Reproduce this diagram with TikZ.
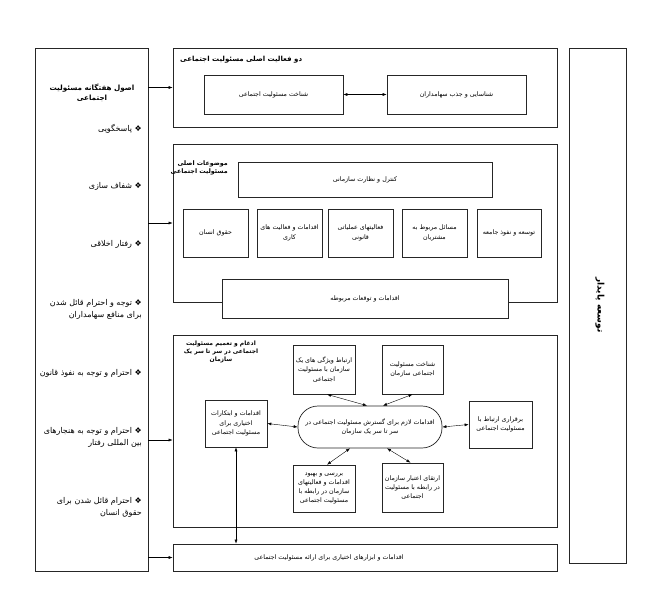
\documentclass[tikz,border=0pt]{standalone}
\usepackage{fontspec}
\newfontfamily\arabicfont[Script=Arabic]{DejaVu Sans}
\TeXXeTstate=1
\usetikzlibrary{arrows.meta,positioning}
\newcommand{\fa}[1]{\beginR #1\endR}
\tikzset{
  frame box/.style={
    draw=black!85, line width=0.8pt, minimum width=384, inner sep=0pt
  },
  column box/.style={
    draw=black!85, line width=0.8pt, inner sep=0pt
  },
  topic box/.style={
    draw=black!85, line width=0.7pt, fill=white, align=center, inner sep=1pt,
    font=\arabicfont\fontsize{6.3}{9.3}\selectfont
  },
  item text/.style={
    align=right, inner sep=0pt, font=\arabicfont\fontsize{8}{12}\selectfont
  },
  head text/.style={
    align=center, inner sep=0pt, font=\arabicfont\bfseries\fontsize{6.3}{8}\selectfont
  }
}

\begin{document}
\begin{tikzpicture}[x=1pt, y=-1pt, >={Latex[length=4pt,width=3pt]}]
    \useasboundingbox (0,0) rectangle (668,594);
    % side columns
    \draw (91.5,309.5) node[column box, minimum width=113, minimum height=523] (principles) {};
    \draw (597.5,305.5) node[column box, minimum width=57, minimum height=515] (sustain) {};
    \draw (600,305) node[head text, rotate=-90, font=\arabicfont\bfseries\fontsize{9}{11}\selectfont] (sustaintitle) {\fa{توسعه پایدار}};
    \draw (92,93) node[head text, font=\arabicfont\bfseries\fontsize{7.2}{10}\selectfont] (principlestitle) {\fa{اصول هفتگانه مسئولیت}\\\fa{اجتماعی}};
    \draw (142,129) node[item text, anchor=east] (respond) {\fa{❖ پاسخگویی}};
    \draw (142,186) node[item text, anchor=east] (clear) {\fa{❖ شفاف سازی}};
    \draw (142,244) node[item text, anchor=east] (ethics) {\fa{❖ رفتار اخلاقی}};
    \draw (142,309) node[item text, anchor=east] (holders) {\fa{❖ توجه و احترام قائل شدن}\\\fa{برای منافع سهامداران}};
    \draw (142,373) node[item text, anchor=east] (law) {\fa{❖ احترام و توجه به نفوذ قانون}};
    \draw (142,437) node[item text, anchor=east] (norms) {\fa{❖ احترام و توجه به هنجارهای}\\\fa{بین المللی رفتار}};
    \draw (142,507) node[item text, anchor=east] (rights) {\fa{❖ احترام قائل شدن برای}\\\fa{حقوق انسان}};

    % two main activities
    \draw (365,87.5) node[frame box, minimum height=79] (activity) {};
    \draw (180,60) node[head text, anchor=west, font=\arabicfont\bfseries\fontsize{7}{8}\selectfont] (activitytitle) {\fa{دو فعالیت اصلی مسئولیت اجتماعی}};
    \draw (273.5,94.5) node[topic box, minimum width=139, minimum height=39] (know) {\fa{شناخت مسئولیت اجتماعی}};
    \draw (456.5,94.5) node[topic box, minimum width=139, minimum height=39] (stake) {\fa{شناسایی و جذب سهامداران}};
    \draw (know) edge[<->] (stake);

    % main topics
    \draw (365,223) node[frame box, minimum height=158] (topics) {};
    \draw (228,161) node[head text, anchor=north east, align=right] (topicstitle) {\fa{موضوعات اصلی}\\\fa{مسئولیت اجتماعی}};
    \draw (365,179.5) node[topic box, minimum width=254, minimum height=35] (control) {\fa{کنترل و نظارت سازمانی}};
    \draw (215.5,233) node[topic box, minimum width=65, minimum height=48] (human) {\fa{حقوق انسان}};
    \draw (289.5,233) node[topic box, minimum width=65, minimum height=48] (labour) {\fa{اقدامات و فعالیت های}\\\fa{کاری}};
    \draw (360.5,233) node[topic box, minimum width=65, minimum height=48] (legal) {\fa{فعالیتهای عملیاتی}\\\fa{قانونی}};
    \draw (434.5,233) node[topic box, minimum width=65, minimum height=48] (clients) {\fa{مسائل مربوط به}\\\fa{مشتریان}};
    \draw (509,233) node[topic box, minimum width=64, minimum height=48] (society) {\fa{توسعه و نفوذ جامعه}};
    \draw (365,298.5) node[topic box, minimum width=286, minimum height=39] (expect) {\fa{اقدامات و توقعات مربوطه}};

    % integration
    \draw (365,431) node[frame box, minimum height=192] (integration) {};
    \draw (221,341) node[head text, anchor=north, font=\arabicfont\bfseries\fontsize{6}{8}\selectfont] (integrationtitle) {\fa{ادغام و تعمیم مسئولیت}\\\fa{اجتماعی در سر تا سر یک}\\\fa{سازمان}};
    \draw (370,427) node[topic box, minimum width=144, minimum height=42, rounded corners=20pt] (hub) {\fa{اقدامات لازم برای گسترش مسئولیت اجتماعی در}\\\fa{سر تا سر یک سازمان}};
    \draw (324,369.5) node[topic box, minimum width=62, minimum height=49] (link) {\fa{ارتباط ویژگی های یک}\\\fa{سازمان با مسئولیت}\\\fa{اجتماعی}};
    \draw (412.5,369.5) node[topic box, minimum width=61, minimum height=49] (learn) {\fa{شناخت مسئولیت}\\\fa{اجتماعی سازمان}};
    \draw (236,423.5) node[topic box, minimum width=62, minimum height=47] (initiative) {\fa{اقدامات و ابتکارات}\\\fa{اختیاری برای}\\\fa{مسئولیت اجتماعی}};
    \draw (500.5,424.5) node[topic box, minimum width=63, minimum height=47] (contact) {\fa{برقراری ارتباط با}\\\fa{مسئولیت اجتماعی}};
    \draw (324,488.5) node[topic box, minimum width=62, minimum height=47] (review) {\fa{بررسی و بهبود}\\\fa{اقدامات و فعالیتهای}\\\fa{سازمان در رابطه با}\\\fa{مسئولیت اجتماعی}};
    \draw (412.5,487.5) node[topic box, minimum width=61, minimum height=49] (credit) {\fa{ارتقای اعتبار سازمان}\\\fa{در رابطه با مسئولیت}\\\fa{اجتماعی}};
    \draw ([xshift=-3pt]hub.north) edge[<->] ([xshift=3pt]link.south);
    \draw ([xshift=13pt]hub.north) edge[<->] (learn.south);
    \draw ([xshift=-20pt]hub.south) edge[<->] ([xshift=3pt]review.north);
    \draw ([xshift=17pt]hub.south) edge[<->] ([xshift=-2pt]credit.north);
    \draw (hub.west) edge[<->] (initiative.east);
    \draw (hub.east) edge[<->] (contact.west);

    % discretionary tools
    \draw (365,557.5) node[frame box, minimum height=27] (tools) {};
    \draw (329,557.5) node[item text, font=\arabicfont\fontsize{6.3}{8}\selectfont] (toolstext) {\fa{اقدامات و ابزارهای اختیاری برای ارائه مسئولیت اجتماعی}};
    \draw (initiative.south) edge[<->] (initiative.south |- tools.north);

    % principles feed every block
    \draw (principles.east |- activity.west) edge[->] (activity.west);
    \draw (principles.east |- topics.west) edge[->] (topics.west);
    \draw ([yshift=-9pt]principles.east |- integration.west) edge[->] ([yshift=-9pt]integration.west);
    \draw (principles.east |- tools.west) edge[->] (tools.west);
\end{tikzpicture}
\end{document}
